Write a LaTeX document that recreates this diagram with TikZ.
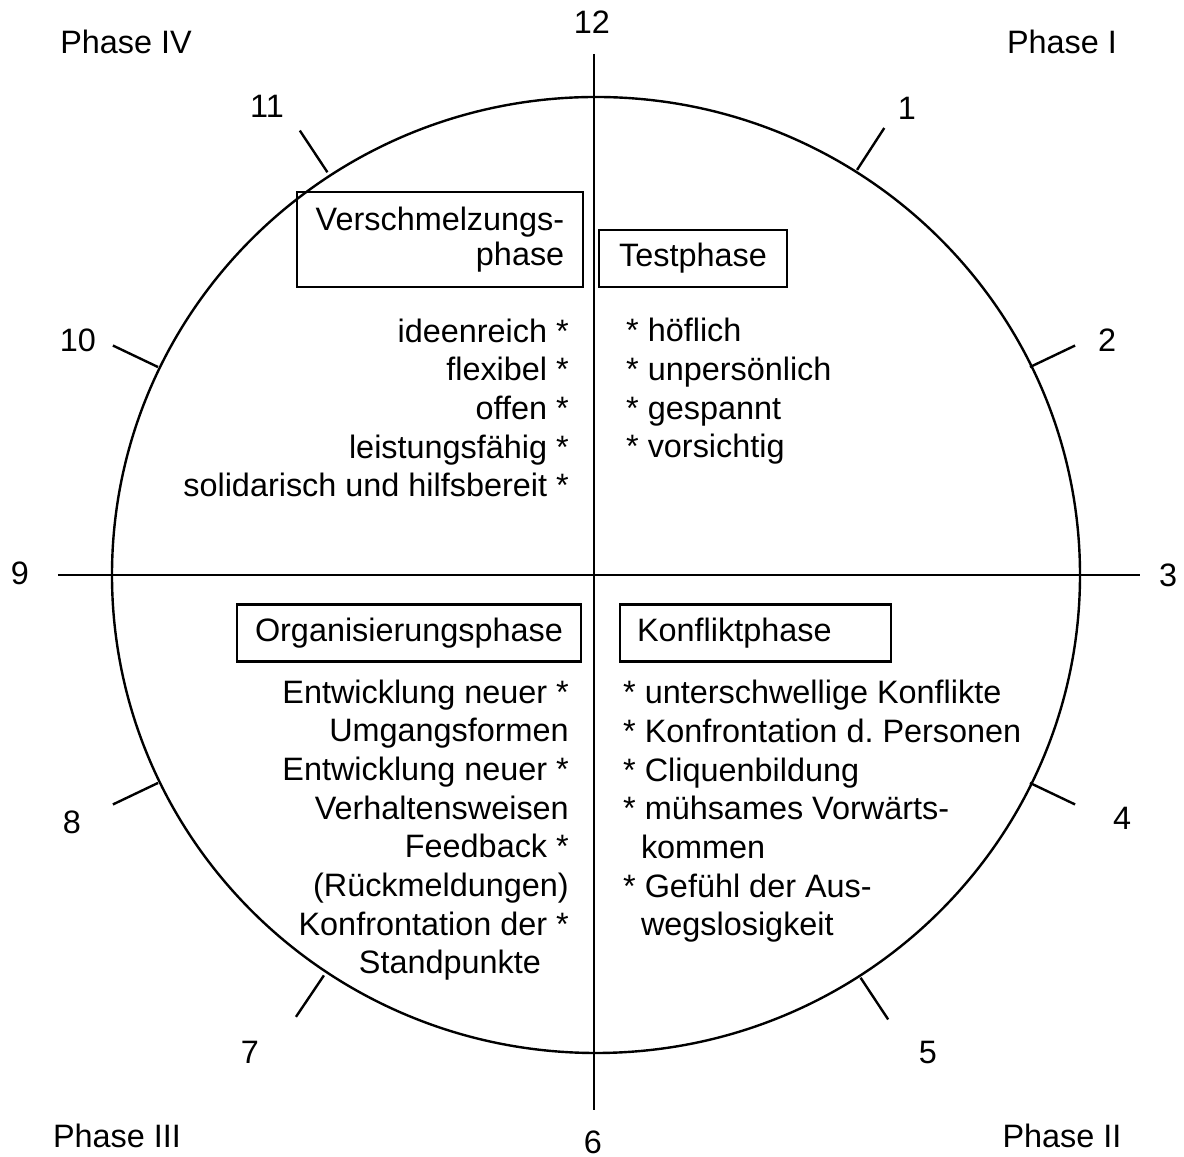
\documentclass[tikz,border=0pt]{standalone}
\usepackage{fontspec}
\setmainfont{Liberation Sans}[Ligatures=CommonOff]
\usetikzlibrary{positioning}
\frenchspacing

\tikzset{
	lbl/.style={font=\fontsize{12.15}{14.5}\selectfont, inner sep=0pt},
	phasebox/.style={draw, font=\fontsize{12.15}{13.1}\selectfont, inner sep=0pt, minimum height=21.4pt},
}

\begin{document}
\begin{tikzpicture}[x=0.375pt, y=0.375pt, line width=0.9pt]
			\useasboundingbox (-594,575) rectangle (590,-582);

			\draw (2,0) ellipse [x radius=484, y radius=478];
			\coordinate (top) at (0,521);
			\coordinate (bottom) at (0,-535);
			\coordinate (left) at (-536,0);
			\coordinate (right) at (546,0);
			\draw (top) -- (bottom);
			\draw (left) -- (right);
			\foreach \a in {57,25.5,-25.5,-56.5,-124,-154.5,154.5,123.5}
				\draw (\a:483) -- (\a:533);

			
			\node[lbl](h12) at (-2,553){12};
			\node[lbl](h1) at (313,467){1};
			\node[lbl](h2) at (513,235){2};
			\node[lbl](h3) at (574,0){3};
			\node[lbl](h4) at (528,-243){4};
			\node[lbl](h5) at (334,-478){5};
			\node[lbl](h6) at (-1,-567){6};
			\node[lbl](h7) at (-344,-477){7};
			\node[lbl](h8) at (-522,-247){8};
			\node[lbl](h9) at (-574,2){9};
			\node[lbl](h10) at (-516,235){10};
			\node[lbl](h11) at (-327,469){11};

			
			\node[lbl](p4) at (-468,533){Phase IV};
			\node[lbl](p1) at (468,533){Phase I};
			\node[lbl](p3) at (-477,-561){Phase III};
			\node[lbl](p2) at (468,-561){Phase II};

			
			\node[phasebox, minimum width=107.25pt, minimum height=35.6pt, inner xsep=7pt, align=right](verschm) at (-154,335.5){Verschmelzungs-\\phase};
			\node[phasebox, minimum width=70.5pt](test) at (99,316.5){Testphase};
			\node[phasebox, minimum width=129pt](orga) at (-185,-58){Organisierungsphase};
			\node[phasebox, minimum width=101.6pt, text width=88.8pt, align=left](konfl) at (161.5,-58){Konfliktphase};

			
			\node[lbl, align=right, anchor=base east](verschm_list) at (-24,78){ideenreich *\\flexibel *\\offen *\\leistungsfähig *\\solidarisch und hilfsbereit *};
			\node[lbl, align=left, anchor=base west](test_list) at (31,117){* höflich\\* unpersönlich\\* gespannt\\* vorsichtig};
			\node[lbl, align=right, anchor=base east](orga_list) at (-24,-399){Entwicklung neuer *\\Umgangsformen\hspace*{0.83em}\\Entwicklung neuer *\\Verhaltensweisen\hspace*{1.14em}\\Feedback *\\(Rückmeldungen)\hspace*{0.83em}\\Konfrontation der *\\Standpunkte\hspace*{0.86em}};
			\node[lbl, align=left, anchor=base west](konfl_list) at (28,-361){* unterschwellige Konflikte\\* Konfrontation d.\ Personen\\* Cliquenbildung\\* mühsames Vorwärts-\\\hspace*{0.55em}kommen\\* Gefühl der Aus-\\\hspace*{0.55em}wegslosigkeit};
		\end{tikzpicture}
\end{document}
